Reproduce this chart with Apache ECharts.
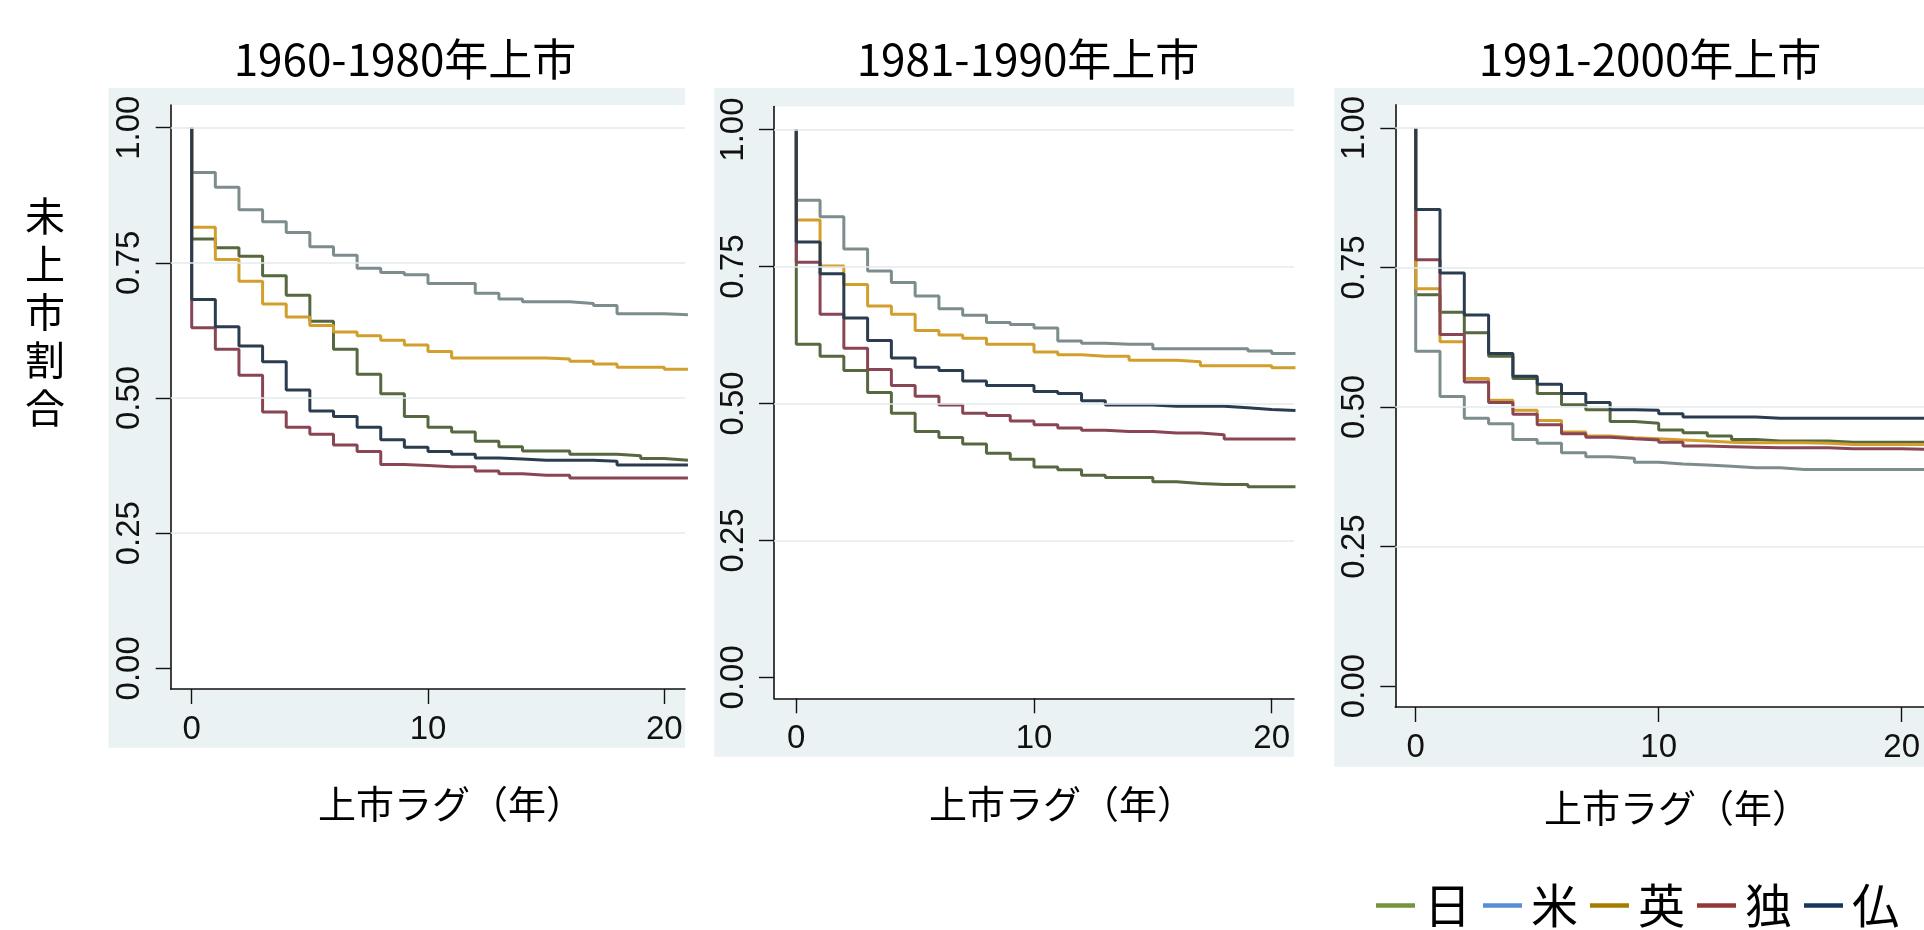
<!DOCTYPE html>
<html><head><meta charset="utf-8">
<script src="https://cdn.jsdelivr.net/npm/echarts@6/dist/echarts.min.js"></script>
<style>html,body{margin:0;padding:0;background:#fff}#c{width:1924px;height:930px}</style>
</head><body><div id="c"></div>
<script>
// ---------- data ----------
const years = [0,1,2,3,4,5,6,7,8,9,10,11,12,13,14,15,16,17,18,19,20,21];
const startValue = 1.0;
const countries = ['日','米','英','独','仏'];
const panelTitles = ['1960-1980年上市','1981-1990年上市','1991-2000年上市'];
const xAxisTitle = '上市ラグ（年）';
const yAxisTitle = '未上市割合';
const yTicks = [0, 0.25, 0.5, 0.75, 1];
const xTicks = [0, 10, 20];

// 1960-1980
const jp1 = [0.794,0.778,0.762,0.726,0.690,0.642,0.590,0.544,0.508,0.466,0.446,0.437,0.420,0.410,0.402,0.402,0.396,0.396,0.393,0.388,0.385,0.385];
const us1 = [0.917,0.890,0.848,0.826,0.806,0.780,0.764,0.740,0.732,0.728,0.712,0.712,0.694,0.683,0.678,0.678,0.675,0.671,0.656,0.656,0.654,0.654];
const uk1 = [0.816,0.756,0.716,0.674,0.650,0.634,0.622,0.615,0.607,0.598,0.586,0.574,0.574,0.574,0.574,0.572,0.568,0.563,0.557,0.557,0.553,0.553];
const de1 = [0.630,0.590,0.542,0.474,0.446,0.433,0.413,0.401,0.377,0.375,0.373,0.373,0.365,0.360,0.357,0.357,0.352,0.352,0.352,0.352,0.352,0.352];
const fr1 = [0.682,0.632,0.596,0.567,0.515,0.476,0.466,0.446,0.423,0.409,0.401,0.396,0.389,0.387,0.385,0.385,0.385,0.383,0.376,0.376,0.376,0.376];
// 1981-1990
const jp2 = [0.608,0.586,0.560,0.520,0.482,0.449,0.438,0.426,0.409,0.398,0.384,0.379,0.369,0.365,0.365,0.357,0.354,0.352,0.352,0.348,0.348,0.348];
const us2 = [0.871,0.841,0.782,0.742,0.721,0.696,0.673,0.661,0.648,0.644,0.638,0.614,0.610,0.608,0.608,0.600,0.600,0.600,0.600,0.596,0.591,0.591];
const uk2 = [0.835,0.751,0.717,0.678,0.663,0.633,0.625,0.619,0.608,0.608,0.594,0.589,0.586,0.586,0.579,0.579,0.576,0.569,0.569,0.569,0.565,0.565];
const de2 = [0.758,0.663,0.601,0.562,0.533,0.513,0.497,0.482,0.478,0.468,0.461,0.455,0.451,0.449,0.449,0.446,0.446,0.443,0.435,0.435,0.435,0.435];
const fr2 = [0.795,0.737,0.656,0.615,0.583,0.566,0.560,0.541,0.533,0.533,0.522,0.518,0.505,0.497,0.497,0.495,0.495,0.495,0.492,0.489,0.487,0.487];
// 1991-2000
const jp3 = [0.701,0.670,0.633,0.591,0.551,0.524,0.504,0.495,0.474,0.471,0.459,0.454,0.448,0.442,0.439,0.439,0.439,0.437,0.437,0.437,0.437,0.437];
const us3 = [0.600,0.519,0.480,0.470,0.442,0.435,0.418,0.411,0.408,0.401,0.398,0.396,0.394,0.391,0.391,0.388,0.388,0.388,0.388,0.388,0.388,0.388];
const uk3 = [0.712,0.617,0.551,0.512,0.494,0.476,0.455,0.448,0.445,0.443,0.441,0.439,0.437,0.436,0.436,0.436,0.435,0.433,0.433,0.433,0.433,0.433];
const de3 = [0.764,0.630,0.545,0.508,0.487,0.468,0.452,0.446,0.443,0.441,0.437,0.430,0.429,0.428,0.427,0.427,0.427,0.425,0.425,0.425,0.424,0.424];
const fr3 = [0.854,0.740,0.665,0.596,0.555,0.541,0.524,0.508,0.495,0.494,0.488,0.482,0.482,0.482,0.480,0.480,0.480,0.480,0.480,0.480,0.480,0.480];

const panelSeries = [[jp1,us1,uk1,de1,fr1],[jp2,us2,uk2,de2,fr2],[jp3,us3,uk3,de3,fr3]];

// ---------- styles / layout ----------
const lineColors   = ['#56683f','#7d8c8c','#d29e2c','#8a4554','#2b3c4f'];
const legendColors = ['#77933c','#558ed5','#a67c00','#953735','#17375e'];
const bgColor = '#eaf2f3';
const W = 1924, H = 930;
const layout = [
  {bg:[108.5,88,685,747.7], plot:[170.7,105,685,689],   x:[-0.889,20.876], y:[-0.0383,1.042], title:[405,59],  xname:[451,804]},
  {bg:[714.3,88,1294,756.7], plot:[774,106.6,1294,698.3], x:[-0.938,20.938], y:[-0.0383,1.042], title:[1028,59], xname:[1062,804]},
  {bg:[1334.3,88,1924,766.7],plot:[1395.3,104.9,1924,707],x:[-0.840,20.918], y:[-0.0376,1.0414],title:[1650,59], xname:[1677,808]}
];
const numFont = 'Liberation Sans';
const cjkFont = 'Noto Sans CJK JP';

const grids = [], xAxes = [], yAxes = [], series = [], graphics = [];
layout.forEach((L, p) => {
  const [l,t,r,b] = L.plot;
  grids.push({left:l, top:t, width:r-l, height:b-t, show:true, backgroundColor:'#fff', borderWidth:0, containLabel:false});
  xAxes.push({type:'value', gridIndex:p, min:L.x[0], max:L.x[1],
    axisLine:{show:true, onZero:false, lineStyle:{color:'#111', width:1.6}},
    axisTick:{show:true, length:15, customValues:xTicks, lineStyle:{color:'#111', width:1.4}},
    axisLabel:{customValues:xTicks, fontSize:33, color:'#111', fontFamily:numFont, margin:24},
    splitLine:{show:false}});
  yAxes.push({type:'value', gridIndex:p, min:L.y[0], max:L.y[1],
    axisLine:{show:true, onZero:false, lineStyle:{color:'#111', width:1.6}},
    axisTick:{show:true, length:15, customValues:yTicks, lineStyle:{color:'#111', width:1.4}},
    axisLabel:{customValues:yTicks, rotate:90, fontSize:33, color:'#111', fontFamily:numFont, margin:24,
      formatter: v => v.toFixed(2)},
    splitLine:{show:false}});
  // gridlines
  series.push({type:'line', xAxisIndex:p, yAxisIndex:p, data:[], z:1, silent:true,
    markLine:{silent:true, symbol:['none','none'], label:{show:false}, animation:false,
      lineStyle:{color:'#e3eaed', width:1.5, type:'solid'},
      data: yTicks.filter(v => v > 0).map(v => ({yAxis:v}))}});
  panelSeries[p].forEach((vals, i) => {
    series.push({type:'line', name:countries[i], xAxisIndex:p, yAxisIndex:p, step:'end',
      showSymbol:false, symbol:'none', clip:true, silent:true, z:2,
      lineStyle:{width:3, color:lineColors[i]}, itemStyle:{color:lineColors[i]},
      data: [[years[0], startValue]].concat(years.map((x, k) => [x, vals[k]]))});
  });
  graphics.push({type:'rect', z:-10, shape:{x:L.bg[0], y:L.bg[1], width:L.bg[2]-L.bg[0], height:L.bg[3]-L.bg[1]}, style:{fill:bgColor}});
  graphics.push({type:'text', z:10, x:L.title[0], y:L.title[1], style:{text:panelTitles[p], font:'44px "'+cjkFont+'"', fill:'#000', textAlign:'center', textVerticalAlign:'middle'}});
  graphics.push({type:'text', z:10, x:L.xname[0], y:L.xname[1], style:{text:xAxisTitle, font:'38px "'+cjkFont+'"', fill:'#000', textAlign:'center', textVerticalAlign:'middle'}});
});
graphics.push({type:'text', z:10, x:45, y:312, style:{text:yAxisTitle.split('').join('\n'), font:'40px "'+cjkFont+'"', lineHeight:48, fill:'#000', textAlign:'center', textVerticalAlign:'middle'}});

const chart = echarts.init(document.getElementById('c'), null, {renderer:'canvas', width:W, height:H});
chart.setOption({
  animation:false,
  backgroundColor:'#fff',
  grid:grids, xAxis:xAxes, yAxis:yAxes, series:series,
  graphic:{elements:graphics},
  legend:{data:countries.map((n,i)=>({name:n, itemStyle:{color:legendColors[i]}})),
    left:1376, top:882, padding:0, icon:'rect', itemWidth:39, itemHeight:4.5, itemGap:12, selectedMode:false,
    textStyle:{fontSize:47, color:'#000', fontFamily:cjkFont, padding:[0,0,0,4]}}
});
</script></body></html>
